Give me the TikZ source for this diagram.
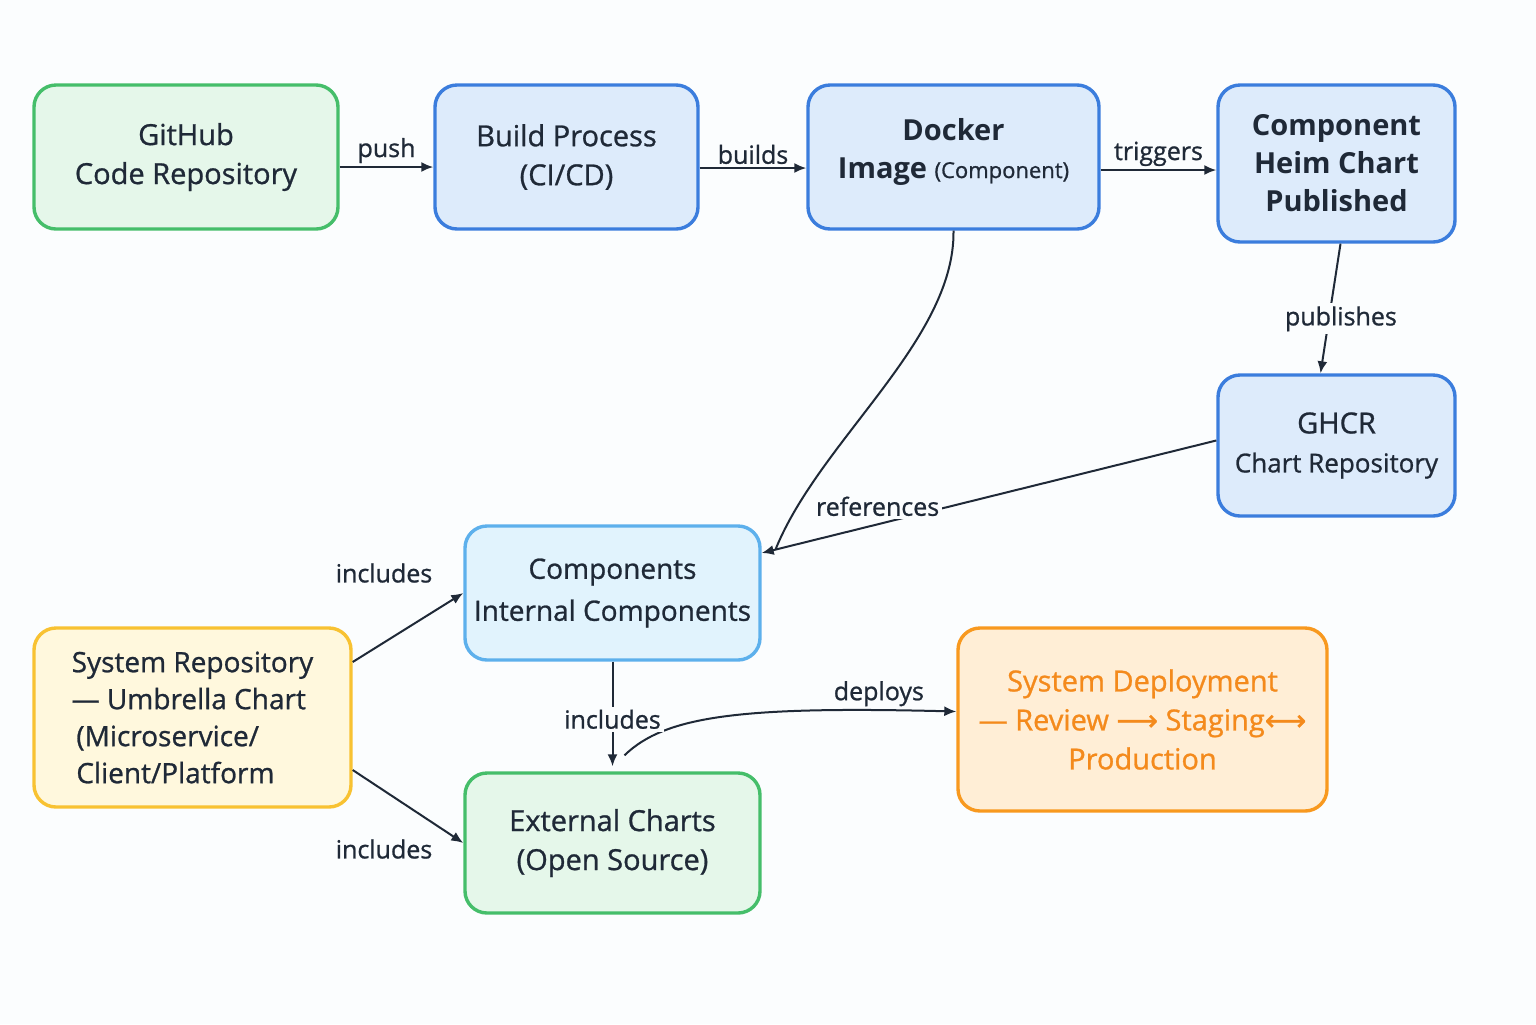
\documentclass[tikz,border=0pt]{standalone}
\usepackage{fontspec}
\setmainfont{Open Sans}[UprightFeatures={FakeBold=0.9}, BoldFeatures={FakeBold=0}]
\newfontfamily\symfont{DejaVu Sans}[FakeBold=0.9]
\usetikzlibrary{arrows.meta}
\definecolor{ink}{HTML}{1F2937}
\definecolor{bgcol}{HTML}{FBFDFE}
\definecolor{greenline}{HTML}{45BE6A}
\definecolor{greenfill}{HTML}{E5F7EA}
\definecolor{blueline}{HTML}{3B7DDD}
\definecolor{bluefill}{HTML}{DDEBFB}
\definecolor{skyline}{HTML}{5DB0EC}
\definecolor{skyfill}{HTML}{E1F3FD}
\definecolor{yellowline}{HTML}{F8C232}
\definecolor{yellowfill}{HTML}{FFF8DD}
\definecolor{orangeline}{HTML}{F8991F}
\definecolor{orangefill}{HTML}{FFEED6}
\definecolor{orangetext}{HTML}{F48A1C}
\tikzset{
  box/.style={draw, rounded corners=11pt, line width=1.7pt, align=center, text=ink,
    inner sep=0pt, font=\fontsize{14.5}{19.5}\selectfont},
  greenbox/.style={box, draw=greenline, fill=greenfill},
  bluebox/.style={box, draw=blueline, fill=bluefill},
  skybox/.style={box, draw=skyline, fill=skyfill},
  yellowbox/.style={box, draw=yellowline, fill=yellowfill},
  orangebox/.style={box, draw=orangeline, fill=orangefill, text=orangetext},
  link/.style={draw=ink, line width=1pt, -{Latex[length=6pt,width=5pt]}},
  lbl/.style={text=ink, font=\fontsize{12.5}{14}\selectfont, inner sep=1.5pt},
  lblbg/.style={lbl, fill=bgcol}
}
\begin{document}
\begin{tikzpicture}[x=0.5pt,y=-0.5pt]
  \fill[bgcol] (0,0) rectangle (1536,1024);
  \useasboundingbox (0,0) rectangle (1536,1024);

  % top row
  \node[greenbox, minimum width=152pt, minimum height=72pt] (github) at (186,157) {GitHub\\Code Repository};
  \node[bluebox, minimum width=131.5pt, minimum height=72pt] (build) at (566.5,157) {Build Process\\(CI/CD)};
  \node[bluebox, minimum width=145.5pt, minimum height=72pt, font=\bfseries\fontsize{14.5}{19}\selectfont] (docker) at (953.5,157)
    {Docker\\Image {\mdseries\fontsize{11}{12}\selectfont(Component)}\\[-10pt]};
  \node[bluebox, minimum width=118.5pt, minimum height=78.5pt, font=\bfseries\fontsize{14.5}{19}\selectfont] (helm) at (1336.5,163.5)
    {Component\\Heim Chart\\Published};
  \node[bluebox, minimum width=118.5pt, minimum height=70.5pt] (ghcr) at (1336.5,445.5)
    {GHCR\\{\fontsize{13}{19}\selectfont Chart Repository}};

  % lower part
  \node[skybox, minimum width=147.5pt, minimum height=67pt, font=\fontsize{14}{21}\selectfont] (internal) at (612.5,593)
    {Components\\Internal Components};
  \node[yellowbox, minimum width=158.5pt, minimum height=89.5pt, align=left, font=\fontsize{14}{18.5}\selectfont] (sysrepo) at (192.5,717.5)
    {System Repository\\— Umbrella Chart\\\,(Microservice/\\\,Client/Platform};
  \node[greenbox, minimum width=147.5pt, minimum height=70pt] (external) at (612.5,843)
    {External Charts\\(Open Source)};
  \node[orangebox, minimum width=184.5pt, minimum height=91.5pt] (deploy) at (1142.5,719.5)
    {System Deployment\\— Review {\symfont ⟶} Staging{\symfont ⟷}\\Production};

  % connectors
  \draw[link] ([yshift=-5pt]github.east) -- node[lbl, above] (lpush) {push} ([yshift=-5pt]build.west);
  \draw[link] ([yshift=-5.5pt]build.east) -- node[lbl, above] (lbuilds) {builds} ([yshift=-5.5pt]docker.west);
  \draw[link] ([yshift=-6.5pt]docker.east) -- node[lbl, above] (ltriggers) {triggers} ([yshift=-3.25pt]helm.west);
  \draw[link] ([xshift=2pt]helm.south) -- node[lblbg, pos=0.58, xshift=6pt] (lpublishes) {publishes} ([xshift=-8pt]ghcr.north);
  \draw[draw=ink, line width=1pt] (docker.south) .. controls (955,340) and (820,440) .. ([xshift=7pt,yshift=22pt]internal.east);
  \draw[link] ([yshift=2.5pt]ghcr.west) -- node[lblbg, pos=0.745, yshift=9pt] (lrefs) {references} ([yshift=20pt]internal.east);
  \draw[link] ([yshift=27.75pt]sysrepo.east) -- (internal.west);
  \node[lbl] (linc1) at (384,573) {includes};
  \draw[link] ([yshift=-26.25pt]sysrepo.east) -- (external.west);
  \node[lbl] (linc2) at (384,849) {includes};
  \draw[link] ([xshift=6pt,yshift=8pt]external.north) .. controls (665,716) and (740,706) .. node[lbl, pos=0.87, above] (ldeploys) {deploys} ([yshift=4pt]deploy.west);
  \draw[link] (internal.south) -- node[lblbg, pos=0.55] (linc3) {includes} ([yshift=2.5pt]external.north);
\end{tikzpicture}
\end{document}
